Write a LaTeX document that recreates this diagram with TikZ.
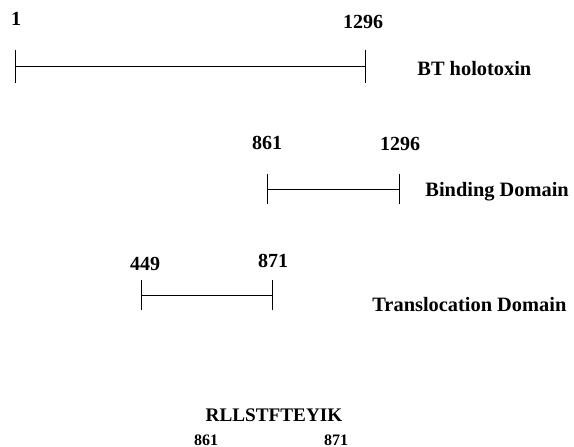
\documentclass[tikz,border=0pt]{standalone}
\usepackage{fontspec}
\setmainfont{Liberation Serif}
\usetikzlibrary{arrows.meta}

\tikzset{
    num/.style={font=\bfseries\fontsize{10}{12}\selectfont, inner sep=0pt, anchor=base},
    domlabel/.style={font=\bfseries\fontsize{10.2}{12}\selectfont, inner sep=0pt, anchor=base west},
    seqnum/.style={font=\bfseries\fontsize{8}{9}\selectfont, inner sep=0pt, anchor=base},
    span/.style={{Bar[width=#1]}-{Bar[width=#1]}, line width=0.5pt},
    span/.default=15pt,
}

\begin{document}
\begin{tikzpicture}[x=0.5pt,y=-0.5pt]

    \useasboundingbox (0,0) rectangle (574,446);
    \clip (0,0) rectangle (574,446);

    % BT holotoxin
    \coordinate (holoL) at (15,66);
    \coordinate (holoR) at (366,66);
    \draw[span=16.5pt] (holoL) -- (holoR);
    \node[num] (holoA) at (16,25) {1};
    \node[num] (holoB) at (363,28) {1296};
    \node[domlabel] (holo) at (417,75) {BT holotoxin};

    % binding domain
    \coordinate (bindL) at (267,189);
    \coordinate (bindR) at (400,189);
    \draw[span] (bindL) -- (bindR);
    \node[num] (bindA) at (267,149) {861};
    \node[num] (bindB) at (400,150) {1296};
    \node[domlabel] (bind) at (425,196) {Binding Domain};

    % translocation domain
    \coordinate (transL) at (141,295);
    \coordinate (transR) at (273,295);
    \draw[span] (transL) -- (transR);
    \node[num] (transA) at (145,270) {449};
    \node[num] (transB) at (273,267) {871};
    \node[domlabel] (trans) at (372,311) {Translocation Domain};

    % peptide
    \node[num, font=\bfseries\fontsize{9.6}{12}\selectfont] (pep) at (274,421) {RLLSTFTEYIK};
    \node[seqnum] (pepA) at (206,445) {861};
    \node[seqnum] (pepB) at (336,445) {871};

\end{tikzpicture}
\end{document}
